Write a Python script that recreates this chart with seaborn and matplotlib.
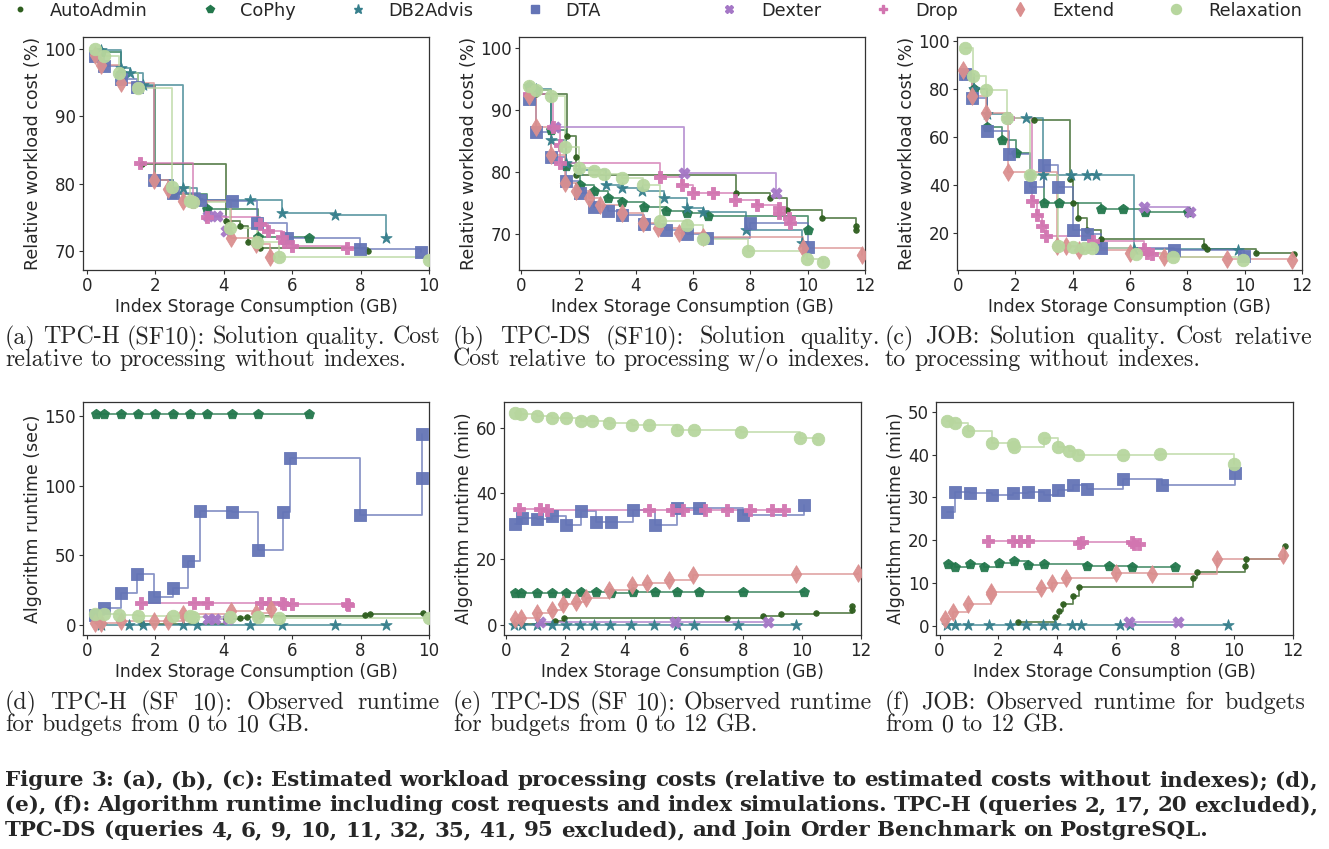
import numpy as np
import pandas as pd
import matplotlib
matplotlib.use("Agg")
import matplotlib.pyplot as plt
from matplotlib.lines import Line2D
import seaborn as sns

# algorithms, colours and markers
algorithms = ["AutoAdmin", "CoPhy", "DB2Advis", "DTA", "Dexter", "Drop", "Extend", "Relaxation"]
colors = ["#2f5f1f", "#23774c", "#367f8c", "#6474b6", "#a577c6", "#d275b0", "#da8f8f", "#b7d69e"]
markers = ["o", "p", "*", "s", "X", "P", "d", "o"]
msizes = [4, 7.5, 8.5, 8, 8, 8, 9, 9]

# (a) TPC-H relative cost (%)
tpch_cost = {
    "AutoAdmin": ([1.6, 4.07, 4.46, 4.7, 5.06, 8.23],
                  [83.0, 74.5, 73.7, 71.4, 70.4, 70.0]),
    "CoPhy": ([0.4, 1.0, 1.5, 2.0, 2.5, 3.5, 5.0, 6.5],
              [99.5, 96.5, 94.5, 80.5, 78.5, 76.2, 72.1, 72.0]),
    "DB2Advis": ([0.4, 1.0, 1.25, 1.63, 2.8, 3.2, 4.75, 5.7, 7.25, 8.75],
                 [99.9, 97.2, 96.4, 94.6, 79.4, 77.6, 77.6, 75.6, 75.4, 71.9]),
    "DTA": ([0.22, 0.5, 1.0, 1.46, 1.97, 2.5, 3.3, 4.25, 4.98, 5.86, 7.98, 9.77],
            [99.0, 97.5, 95.6, 94.4, 80.5, 78.6, 77.6, 77.4, 74.2, 72.0, 70.3, 69.8]),
    "Dexter": ([3.55, 3.8, 4.05],
               [75.2, 75.2, 73.0]),
    "Drop": ([1.56, 3.1, 3.5, 5.06, 5.3, 5.7, 5.75, 6.0, 7.6],
             [83.1, 77.3, 75.0, 74.1, 73.0, 72.1, 71.4, 70.7, 70.5]),
    "Extend": ([0.22, 0.4, 1.0, 1.97, 2.38, 2.8, 4.2, 4.95, 5.35],
               [99.1, 97.6, 94.9, 80.5, 79.3, 77.5, 72.0, 71.0, 69.2]),
    "Relaxation": ([0.22, 0.49, 0.93, 1.48, 2.48, 3.0, 3.1, 4.19, 4.97, 5.6, 10.0],
                   [100.0, 99.0, 96.5, 94.3, 79.5, 77.5, 77.3, 73.5, 71.3, 69.2, 68.7]),
}

# (b) TPC-DS relative cost (%)
tpcds_cost = {
    "AutoAdmin": ([0.27, 0.52, 1.61, 1.9, 1.92, 7.48, 8.68, 9.27, 10.49, 11.69, 11.69],
                  [93.8, 92.6, 85.8, 82.5, 79.6, 76.6, 75.8, 73.9, 72.7, 71.3, 70.7]),
    "CoPhy": ([0.27, 0.52, 1.05, 1.55, 2.04, 2.53, 3.03, 3.53, 4.28, 5.05, 5.8, 6.53, 10.02],
              [93.8, 93.2, 86.8, 81.0, 77.9, 77.0, 75.9, 75.2, 74.4, 73.8, 73.5, 73.0, 70.8]),
    "DB2Advis": ([0.27, 0.52, 1.05, 1.55, 2.02, 2.95, 3.5, 4.23, 4.98, 5.77, 6.35, 7.84, 9.79],
                 [93.9, 93.4, 85.1, 81.4, 80.3, 78.0, 77.5, 77.0, 75.9, 74.3, 73.6, 70.8, 68.7]),
    "DTA": ([0.27, 0.52, 1.05, 1.55, 2.04, 2.53, 3.03, 3.5, 4.28, 5.05, 5.77, 6.5, 8.0, 10.02],
            [91.8, 86.5, 82.5, 78.6, 76.7, 74.4, 73.7, 73.2, 71.7, 70.7, 70.1, 69.4, 71.9, 68.0]),
    "Dexter": ([1.17, 5.69, 8.9],
               [87.2, 79.8, 76.7]),
    "Drop": ([0.27, 1.1, 1.34, 1.36, 4.84, 5.6, 5.98, 6.7, 7.46, 8.22, 8.98, 8.98, 9.36, 9.38],
             [92.5, 87.2, 84.3, 81.4, 79.3, 78.0, 76.6, 76.6, 75.6, 74.8, 74.2, 73.5, 72.7, 71.9]),
    "Extend": ([0.27, 0.52, 1.05, 1.52, 1.92, 2.37, 2.74, 3.5, 4.25, 4.78, 5.51, 6.35, 9.83, 11.9],
               [92.2, 87.3, 82.7, 78.3, 77.0, 75.9, 74.8, 73.4, 71.8, 71.1, 70.3, 69.6, 67.8, 66.7]),
    "Relaxation": ([0.27, 0.52, 1.05, 1.52, 2.02, 2.53, 2.88, 3.5, 4.25, 4.84, 5.77, 6.35, 7.93, 9.96, 10.55],
                   [93.8, 93.2, 92.2, 84.1, 80.7, 80.2, 79.7, 79.0, 78.0, 72.1, 71.5, 69.2, 67.4, 66.1, 65.6]),
}

# (c) JOB relative cost (%)
job_cost = {
    "AutoAdmin": ([2.65, 3.9, 4.02, 4.2, 4.51, 4.98, 8.57, 8.7, 10.41, 11.71],
                  [67.0, 42.5, 32.3, 26.0, 21.3, 17.5, 14.5, 13.3, 11.7, 11.2]),
    "CoPhy": ([0.23, 0.55, 1.01, 1.52, 2.02, 2.5, 3.0, 3.53, 4.98, 5.75, 6.53, 8.01],
              [86.5, 80.0, 64.0, 58.8, 53.4, 44.0, 32.6, 32.2, 30.1, 30.1, 28.7, 28.7]),
    "DB2Advis": ([0.23, 0.55, 0.99, 1.7, 2.37, 2.97, 3.93, 4.49, 4.81, 6.14, 9.76],
                 [86.0, 79.9, 69.6, 68.0, 67.9, 44.2, 44.2, 44.2, 44.2, 13.1, 12.6]),
    "DTA": ([0.23, 0.5, 1.01, 1.77, 2.5, 3.0, 3.5, 4.0, 4.51, 4.98, 7.52, 9.99],
            [86.3, 76.4, 62.3, 52.7, 39.3, 48.2, 39.3, 21.3, 19.6, 13.6, 12.6, 10.3]),
    "Dexter": ([6.47, 8.08],
               [30.8, 28.7]),
    "Drop": ([1.75, 2.56, 2.74, 2.93, 3.05, 4.72, 6.47, 6.58, 6.76],
             [67.9, 33.3, 27.4, 22.7, 18.8, 16.4, 13.1, 11.7, 11.2]),
    "Extend": ([0.17, 0.47, 0.97, 1.75, 3.45, 3.76, 4.23, 5.98, 7.17, 9.38, 11.66],
               [88.0, 77.1, 70.1, 45.3, 14.5, 14.3, 12.9, 11.4, 9.7, 8.9, 8.6]),
    "Relaxation": ([0.23, 0.52, 0.97, 1.72, 2.5, 3.5, 4.0, 4.39, 4.66, 6.21, 7.49, 9.94],
                   [97.2, 85.6, 79.7, 67.9, 44.2, 14.5, 14.0, 13.4, 13.4, 11.2, 9.7, 8.6]),
}

# (d) TPC-H runtime (sec)
tpch_time = {
    "AutoAdmin": ([1.6, 4.07, 4.46, 4.67, 5.06, 8.13, 8.26, 9.81],
                  [1.0, 4.0, 5.3, 6.0, 6.2, 7.2, 7.9, 8.9]),
    "CoPhy": ([0.25, 0.5, 1.0, 1.5, 2.0, 2.5, 3.0, 3.5, 4.25, 5.0, 6.5],
              [152, 152, 152, 152, 152, 152, 152, 152, 152, 152, 152]),
    "DB2Advis": ([0.4, 1.22, 1.64, 2.8, 3.21, 4.75, 5.7, 7.25, 8.74],
                 [0.3, 0.3, 0.3, 0.3, 0.3, 0.3, 0.3, 0.3, 0.3]),
    "DTA": ([0.22, 0.5, 1.0, 1.46, 1.97, 2.5, 2.95, 3.29, 4.25, 5.0, 5.72, 5.94, 7.98, 9.79, 9.79],
            [7.2, 12.0, 22.7, 36.6, 20.3, 26.8, 46.2, 82.1, 80.9, 53.6, 81.3, 120.3, 78.9, 106.0, 137.6]),
    "Dexter": ([3.55, 3.75, 4.12],
               [4.0, 4.1, 4.3]),
    "Drop": ([1.58, 3.13, 3.52, 5.09, 5.31, 5.7, 5.77, 6.0, 7.6, 7.64],
             [15.6, 16.0, 15.6, 16.0, 15.6, 15.6, 14.8, 15.0, 14.8, 14.4]),
    "Extend": ([0.22, 0.4, 1.0, 1.97, 2.38, 2.8, 4.2, 4.95, 5.37],
               [1.2, 1.2, 2.9, 2.9, 3.1, 7.9, 10.0, 8.4, 11.5]),
    "Relaxation": ([0.22, 0.49, 0.93, 1.48, 2.5, 3.0, 3.1, 4.19, 5.0, 5.6, 10.0],
                   [7.7, 7.9, 7.2, 6.7, 6.7, 6.5, 6.0, 6.0, 5.5, 4.8, 4.8]),
}

# (e) TPC-DS runtime (min)
tpcds_time = {
    "AutoAdmin": ([0.27, 0.52, 1.64, 1.94, 7.48, 8.68, 9.29, 10.49, 11.69, 11.69],
                  [0.2, 0.3, 1.2, 2.2, 2.3, 2.7, 3.3, 3.7, 4.5, 5.8]),
    "CoPhy": ([0.28, 0.51, 1.04, 1.53, 2.03, 2.54, 3.03, 3.54, 4.27, 5.03, 5.79, 6.53, 8.02, 10.06],
              [9.7, 9.7, 9.7, 9.7, 9.7, 10.0, 10.0, 9.7, 10.0, 10.0, 10.0, 10.0, 10.0, 10.1]),
    "DB2Advis": ([0.27, 0.52, 1.05, 1.55, 2.02, 2.5, 2.95, 3.5, 4.23, 4.98, 5.77, 6.35, 7.84, 9.79],
                 [0.1, 0.1, 0.1, 0.1, 0.1, 0.1, 0.1, 0.1, 0.1, 0.1, 0.1, 0.1, 0.1, 0.1]),
    "DTA": ([0.28, 0.54, 1.04, 1.55, 2.03, 2.54, 3.03, 3.54, 4.27, 5.03, 5.79, 6.53, 8.02, 10.06],
            [30.6, 32.6, 32.2, 33.2, 30.4, 34.6, 31.4, 31.2, 35.1, 30.4, 35.7, 35.7, 33.6, 36.4]),
    "Dexter": ([1.15, 5.69, 8.87],
               [0.8, 0.8, 0.8]),
    "Drop": ([0.43, 1.15, 1.36, 4.84, 5.6, 5.99, 6.72, 7.48, 8.23, 8.98, 9.38],
             [35.2, 35.2, 35.0, 35.1, 34.9, 35.1, 34.9, 34.9, 35.1, 34.9, 34.9]),
    "Extend": ([0.28, 0.51, 1.02, 1.53, 1.9, 2.35, 2.71, 3.48, 4.24, 4.77, 5.49, 6.33, 9.81, 11.89],
               [1.8, 2.3, 3.8, 4.6, 6.3, 7.1, 8.1, 10.6, 12.3, 12.7, 13.7, 15.2, 15.5, 15.7]),
    "Relaxation": ([0.28, 0.51, 1.04, 1.53, 2.01, 2.51, 2.89, 3.48, 4.24, 4.84, 5.76, 6.35, 7.93, 9.94, 10.54],
                   [64.6, 64.1, 63.5, 63.0, 62.8, 62.0, 61.9, 61.5, 60.7, 60.7, 59.2, 59.2, 58.7, 57.0, 56.7]),
}

# (f) JOB runtime (min)
job_time = {
    "AutoAdmin": ([2.68, 3.92, 4.06, 4.2, 4.52, 4.73, 8.61, 8.75, 10.38, 10.42, 11.72],
                  [0.9, 2.1, 3.4, 5.1, 6.9, 9.1, 11.1, 12.6, 14.0, 15.6, 18.6]),
    "CoPhy": ([0.28, 0.53, 1.02, 1.51, 2.02, 2.53, 3.02, 3.53, 5.02, 5.76, 6.52, 8.01],
              [14.3, 13.8, 14.3, 13.8, 14.6, 15.0, 14.2, 14.3, 14.0, 14.0, 13.8, 13.8]),
    "DB2Advis": ([0.27, 0.53, 0.98, 1.67, 2.38, 2.94, 3.51, 3.93, 4.49, 4.81, 6.14, 6.45, 9.79],
                 [0.1, 0.1, 0.1, 0.1, 0.1, 0.1, 0.1, 0.1, 0.1, 0.1, 0.1, 0.1, 0.1]),
    "DTA": ([0.27, 0.53, 1.02, 1.77, 2.51, 3.02, 3.53, 4.03, 4.52, 5.02, 6.24, 7.54, 10.02],
            [26.6, 31.3, 30.9, 30.5, 30.9, 31.2, 30.5, 31.7, 33.0, 31.9, 34.4, 32.9, 35.8]),
    "Dexter": ([6.44, 8.1],
               [0.9, 0.9]),
    "Drop": ([1.66, 2.49, 2.73, 3.02, 4.75, 4.82, 6.52, 6.6, 6.78],
             [19.9, 19.9, 19.8, 19.8, 19.4, 19.5, 19.5, 19.0, 19.1]),
    "Extend": ([0.19, 0.47, 0.98, 1.75, 1.75, 3.44, 3.81, 4.28, 5.99, 7.2, 9.42, 11.66],
               [1.6, 3.1, 5.0, 7.3, 7.9, 8.7, 9.9, 11.2, 12.2, 12.0, 15.5, 16.4]),
    "Relaxation": ([0.25, 0.53, 0.98, 1.77, 2.51, 2.53, 3.53, 4.03, 4.41, 4.71, 6.24, 7.5, 9.99],
                   [47.9, 47.3, 45.6, 42.8, 42.4, 41.8, 43.8, 41.8, 40.8, 40.0, 40.0, 40.1, 37.7]),
}

ylabels = ["Relative workload cost (%)", "Relative workload cost (%)", "Relative workload cost (%)",
           "Algorithm runtime (sec)", "Algorithm runtime (min)", "Algorithm runtime (min)"]
xlabel = "Index Storage Consumption (GB)"
x_limits = [(-0.12, 10), (-0.08, 12), (-0.04, 12), (-0.12, 10), (-0.08, 12), (-0.12, 12)]
y_limits = [(67.2, 101.8), (64.3, 101.7), (4.4, 101.8), (-7.2, 160.3), (-3.0, 67.8), (-2.2, 52.3)]
x_ticks = [[0, 2, 4, 6, 8, 10], [0, 2, 4, 6, 8, 10, 12], [0, 2, 4, 6, 8, 10, 12],
           [0, 2, 4, 6, 8, 10], [0, 2, 4, 6, 8, 10, 12], [0, 2, 4, 6, 8, 10, 12]]
y_ticks = [[70, 80, 90, 100], [70, 80, 90, 100], [20, 40, 60, 80, 100],
           [0, 50, 100, 150], [0, 20, 40, 60], [0, 10, 20, 30, 40, 50]]

sub_captions = [
    ("(a) TPC-H (SF10): Solution quality. Cost", "relative to processing without indexes."),
    ("(b) TPC-DS (SF10): Solution quality.", "Cost relative to processing w/o indexes."),
    ("(c) JOB: Solution quality. Cost relative", "to processing without indexes."),
    ("(d) TPC-H (SF 10): Observed runtime", "for budgets from 0 to 10 GB."),
    ("(e) TPC-DS (SF 10): Observed runtime", "for budgets from 0 to 12 GB."),
    ("(f) JOB: Observed runtime for budgets", "from 0 to 12 GB."),
]
figure_caption = [
    "Figure 3: (a), (b), (c): Estimated workload processing costs (relative to estimated costs without indexes); (d),",
    "(e), (f): Algorithm runtime including cost requests and index simulations. TPC-H (queries 2, 17, 20 excluded),",
    "TPC-DS (queries 4, 6, 9, 10, 11, 32, 35, 41, 95 excluded), and Join Order Benchmark on PostgreSQL.",
]

panels = [tpch_cost, tpcds_cost, job_cost, tpch_time, tpcds_time, job_time]

sns.set_theme(style="white")
plt.rcParams["font.family"] = ["DejaVu Sans"]

W, H = 1329, 849
fig = plt.figure(figsize=(W / 100, H / 100), dpi=100)

# axes boxes in pixels: left, right, top, bottom
boxes = [(83, 429, 37, 270), (519, 865, 37, 270), (957, 1302, 37, 270),
         (83, 429, 402, 635), (504, 861, 402, 635), (936, 1293, 402, 635)]

for i, data in enumerate(panels):
    l, r, t, b = boxes[i]
    ax = fig.add_axes([l / W, 1 - b / H, (r - l) / W, (b - t) / H])
    for k, algo in enumerate(algorithms):
        xs, ys = data[algo]
        df = pd.DataFrame({"x": xs, "y": ys})
        sns.lineplot(data=df, x="x", y="y", ax=ax, color=colors[k], sort=False,
                     estimator=None, drawstyle="steps-post", linewidth=1.3, alpha=0.75)
        sns.scatterplot(data=df, x="x", y="y", ax=ax, color=colors[k], marker=markers[k],
                        s=msizes[k] ** 2, linewidth=0.6, edgecolor=colors[k], alpha=0.95,
                        zorder=3)
    ax.set_xlim(*x_limits[i])
    ax.set_ylim(*y_limits[i])
    ax.set_xticks(x_ticks[i])
    ax.set_yticks(y_ticks[i])
    ax.set_xlabel(xlabel, fontsize=12.3, labelpad=2)
    ax.set_ylabel(ylabels[i], fontsize=12.5, labelpad=2)
    ax.tick_params(axis="both", labelsize=12, length=3, width=0.8, color="#333333",
                   bottom=True, left=True, pad=2)
    for sp in ax.spines.values():
        sp.set_color("#333333")
        sp.set_linewidth(0.9)

# legend across the top, two groups
handles = [Line2D([], [], linestyle="none", marker=markers[k], color=colors[k],
                  markersize=msizes[k] * 0.8) for k in range(len(algorithms))]
fig.legend(handles[:4], algorithms[:4], loc="upper left", bbox_to_anchor=(-0.004, 1.017),
           ncol=4, frameon=False, fontsize=12.8, columnspacing=3.0, handletextpad=1.2,
           handlelength=1.0)
fig.legend(handles[4:], algorithms[4:], loc="upper right", bbox_to_anchor=(0.992, 1.017),
           ncol=4, frameon=False, fontsize=12.8, columnspacing=3.0, handletextpad=1.3,
           handlelength=1.0)

renderer = fig.canvas.get_renderer()


def text_width(s, **kw):
    t = fig.text(0, 0, s, **kw)
    w = t.get_window_extent(renderer=renderer).width
    t.remove()
    return w


def put_line(text, x0, y, width=None, **kw):
    # draw one caption line, justified to width when given
    words = text.split(" ")
    arts = [fig.text(x0 / W, 1 - y / H, w_, va="baseline", ha="left", **kw) for w_ in words]
    widths = [a.get_window_extent(renderer=renderer).width for a in arts]
    gap = text_width("a b", **kw) - text_width("ab", **kw)
    if width is not None and len(words) > 1:
        gap = (width - sum(widths)) / (len(words) - 1)
    x = x0
    for a, w_ in zip(arts, widths):
        a.set_x(x / W)
        x += w_ + gap


sub_x = [(5, 440), (453, 880), (885, 1312), (5, 440), (453, 872), (885, 1305)]
sub_y = [344, 344, 344, 709, 709, 709]
for i, (l1, l2) in enumerate(sub_captions):
    x0, x1 = sub_x[i]
    put_line(l1, x0, sub_y[i], width=x1 - x0, family="cmr10", fontsize=17.2)
    put_line(l2, x0, sub_y[i] + 22, family="cmr10", fontsize=17.2)

cap_y = [786, 811, 836]
for j, line in enumerate(figure_caption):
    put_line(line, 5, cap_y[j], width=(1313 if j < 2 else None),
             family="DejaVu Serif", fontweight="bold", fontsize=15.4)

fig.savefig("out.png", dpi=100)
